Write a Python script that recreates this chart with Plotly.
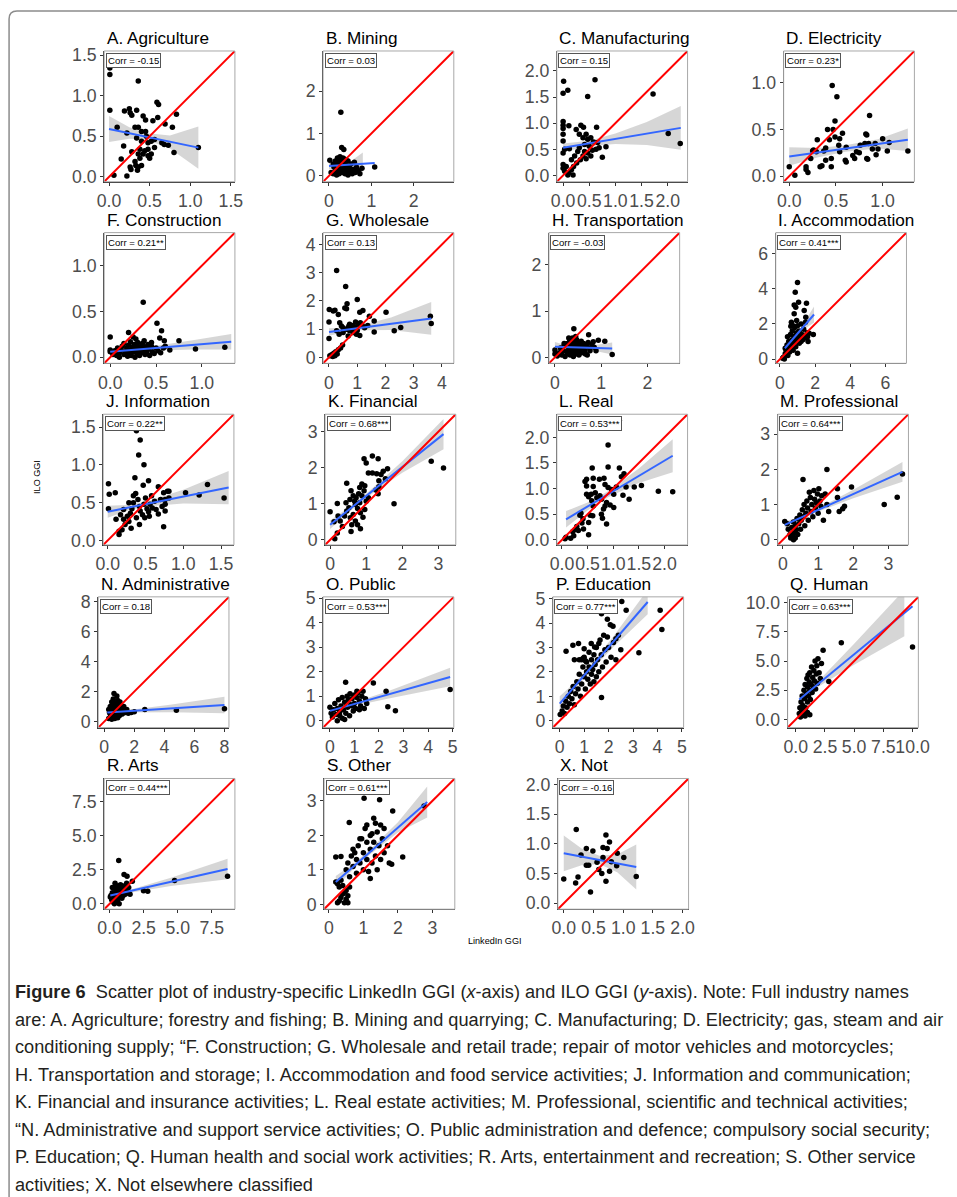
import plotly.graph_objects as go

# Positions below are written in reference-picture pixels.  The page body keeps the browser's
# default 8px margin and the photographed page comes out ~1% smaller than laid out, so every
# picture position is converted to figure coordinates through S and BODY.
S, BODY = 0.9896, 8
W, H = 960, 1203

# ===================== DATA =====================
A_pts = [(0.01,1.34),(0.01,1.26),(0.36,1.18),(0.01,0.82),(0.59,0.92),(0.61,0.89),(0.19,0.81),(0.25,0.84),
         (0.26,0.79),(0.28,0.76),(0.34,0.82),(0.42,0.75),(0.45,0.70),(0.54,0.69),(0.60,0.73),(0.83,0.77),
         (0.69,0.65),(0.78,0.61),(0.10,0.61),(0.32,0.61),(0.36,0.61),(0.40,0.56),(0.45,0.56),(0.46,0.50),
         (0.56,0.46),(0.22,0.54),(0.18,0.38),(0.34,0.48),(0.40,0.44),(0.48,0.42),(0.52,0.44),(0.65,0.42),
         (0.68,0.40),(0.73,0.39),(0.56,0.36),(0.48,0.34),(0.44,0.32),(0.38,0.34),(0.28,0.31),(0.36,0.28),
         (0.42,0.28),(0.48,0.26),(0.52,0.28),(0.50,0.23),(0.38,0.23),(0.15,0.22),(0.32,0.19),(0.26,0.12),
         (0.33,0.14),(0.36,0.12),(0.40,0.14),(0.35,0.08),(0.27,0.09),(0.06,0.02),(0.22,0.01),(0.80,0.30),
         (1.10,0.36)]
A_fit_x, A_fit_y = [0.0, 1.1], [0.59, 0.36]
A_ci_x = [0.0, 0.25, 0.45, 0.75, 1.1]
A_ci_lo = [0.43, 0.47, 0.46, 0.35, 0.10]
A_ci_hi = [0.75, 0.61, 0.54, 0.51, 0.62]

B_pts = [(0.02,0.37),(0.05,0.08),(0.10,0.05),(0.12,0.20),(0.15,0.10),(0.18,0.02),(0.20,0.30),(0.22,0.15),
         (0.24,0.05),(0.25,0.38),(0.27,0.25),(0.28,0.12),(0.30,0.35),(0.30,0.20),(0.32,0.08),(0.33,0.42),
         (0.35,0.30),(0.36,0.18),(0.38,0.05),(0.40,0.25),(0.42,0.12),(0.45,0.35),(0.45,0.02),(0.48,0.20),
         (0.50,0.10),(0.52,0.28),(0.55,0.05),(0.58,0.15),(0.60,0.32),(0.62,0.08),(0.65,0.20),(0.70,0.12),
         (0.73,0.05),(0.78,0.18),(1.08,0.21),(0.28,1.50),(0.30,0.67),(0.35,0.62),(0.15,0.35),(0.20,0.42),
         (0.10,0.28),(0.22,0.08),(0.28,0.30),(0.34,0.22),(0.40,0.38),(0.26,0.45),(0.36,0.40)]
B_fit_x, B_fit_y = [0.0, 1.08], [0.23, 0.30]
B_ci_x = [0.0, 0.27, 0.5, 0.8]
B_ci_lo = [0.15, 0.21, 0.19, 0.03]
B_ci_hi = [0.31, 0.29, 0.33, 0.55]

C_pts = [(0.01,1.80),(0.00,1.57),(0.09,1.63),(0.61,1.83),(0.47,1.51),(1.72,1.56),(2.01,0.80),(2.24,0.61),
         (0.00,1.03),(0.00,0.96),(0.00,0.90),(0.11,0.95),(0.00,0.79),(0.00,0.66),(0.00,0.43),(0.00,0.21),
         (0.00,0.14),(0.03,0.08),(0.09,0.01),(0.06,0.17),(0.16,0.30),(0.22,0.37),(0.25,0.88),(0.34,0.96),
         (0.39,0.92),(0.31,0.79),(0.38,0.72),(0.44,0.79),(0.64,0.92),(0.47,0.69),(0.53,0.72),(0.58,0.64),
         (0.66,0.63),(0.41,0.59),(0.50,0.56),(0.31,0.53),(0.28,0.46),(0.41,0.46),(0.47,0.43),(0.56,0.48),
         (0.63,0.50),(0.69,0.53),(0.82,0.55),(0.75,0.35),(0.53,0.37),(0.38,0.37),(0.33,0.30),(0.44,0.32),
         (0.26,0.24),(0.20,0.17),(0.16,0.11),(0.11,0.05),(0.19,0.01),(0.03,0.50),(0.12,0.51)]
C_fit_x, C_fit_y = [0.0, 2.25], [0.53, 0.91]
C_ci_x = [0.0, 0.5, 1.0, 1.6, 2.25]
C_ci_lo = [0.45, 0.565, 0.60, 0.58, 0.49]
C_ci_hi = [0.61, 0.665, 0.80, 1.02, 1.33]

D_pts = [(0.00,0.10),(0.06,0.01),(0.18,0.10),(0.18,0.07),(0.20,0.04),(0.23,0.19),(0.25,0.27),(0.30,0.39),
         (0.29,0.26),(0.33,0.10),(0.35,0.11),(0.39,0.17),(0.39,0.30),(0.41,0.50),(0.43,0.39),(0.45,0.19),
         (0.46,0.97),(0.45,0.10),(0.47,0.50),(0.49,0.59),(0.51,0.85),(0.49,0.42),(0.54,0.40),(0.57,0.46),
         (0.53,0.33),(0.54,0.26),(0.61,0.31),(0.60,0.17),(0.61,0.15),(0.68,0.22),(0.70,0.19),(0.72,0.26),
         (0.75,0.25),(0.76,0.33),(0.81,0.35),(0.82,0.45),(0.83,0.44),(0.83,0.19),(0.84,0.18),(0.86,0.65),
         (0.85,0.35),(0.89,0.29),(0.92,0.35),(0.93,0.23),(0.95,0.29),(1.00,0.40),(1.05,0.27),(1.07,0.36),
         (1.27,0.27),(0.26,0.28),(0.37,0.27)]
D_fit_x, D_fit_y = [0.0, 1.27], [0.21, 0.39]
D_ci_x = [0.0, 0.3, 0.6, 0.95, 1.27]
D_ci_lo = [0.11, 0.20, 0.26, 0.295, 0.27]
D_ci_hi = [0.31, 0.30, 0.33, 0.395, 0.51]

F_pts = [(0.00,0.22),(0.00,0.08),(0.00,0.06),(0.36,0.60),(0.51,0.37),(0.56,0.29),(0.54,0.21),(0.59,0.18),
         (0.75,0.18),(0.20,0.27),(0.93,0.09),(1.25,0.11),(0.65,0.08),(0.58,0.10),(0.03,0.03),(0.05,0.07),
         (0.07,0.02),(0.08,0.10),(0.10,0.05),(0.10,0.00),(0.12,0.08),(0.13,0.12),(0.15,0.03),(0.15,0.15),
         (0.17,0.06),(0.18,0.10),(0.19,0.01),(0.20,0.13),(0.20,0.05),(0.22,0.08),(0.22,0.17),(0.23,0.02),
         (0.24,0.11),(0.25,0.06),(0.26,0.14),(0.27,0.00),(0.28,0.09),(0.29,0.04),(0.30,0.12),(0.30,0.16),
         (0.31,0.07),(0.32,0.02),(0.33,0.10),(0.34,0.05),(0.35,0.13),(0.36,0.08),(0.37,0.18),(0.38,0.03),
         (0.39,0.11),(0.40,0.06),(0.41,0.14),(0.42,0.09),(0.43,0.02),(0.45,0.12),(0.46,0.06),(0.48,0.04),
         (0.50,0.10),(0.52,0.07),(0.55,0.05),(0.45,0.16),(0.28,0.20),(0.25,0.22),(0.35,0.15),(0.60,0.12)]
F_fit_x, F_fit_y = [0.0, 1.32], [0.06, 0.17]
F_ci_x = [0.0, 0.25, 0.5, 0.9, 1.32]
F_ci_lo = [0.03, 0.066, 0.077, 0.085, 0.085]
F_ci_hi = [0.09, 0.096, 0.127, 0.185, 0.255]

G_pts = [(0.27,3.08),(0.59,2.51),(1.00,2.05),(0.64,1.90),(0.56,1.75),(0.62,1.72),(0.01,1.70),(0.15,1.64),
         (0.21,1.67),(0.33,1.52),(0.00,1.25),(1.20,1.66),(1.09,1.60),(2.02,1.60),(1.43,1.46),(1.60,1.29),
         (1.60,0.90),(2.31,0.94),(2.54,1.06),(3.59,1.46),(3.62,1.20),(0.00,0.67),(0.38,1.23),(0.44,1.11),
         (0.50,1.05),(0.73,1.17),(0.85,1.13),(0.94,1.25),(1.03,1.17),(1.11,1.23),(1.18,1.13),(0.62,1.00),
         (0.73,0.94),(0.85,0.88),(0.97,0.82),(1.09,0.78),(0.68,0.76),(0.91,1.06),(0.27,0.94),(0.36,0.82),
         (0.50,0.88),(1.26,1.05),(1.37,1.13),(0.48,0.44),(0.41,0.33),(0.33,0.27),(0.24,0.20),(0.17,0.15),
         (0.09,0.09),(0.03,0.06),(0.29,0.12),(0.21,0.06),(0.13,0.03),(0.80,1.00),(1.00,0.95),(0.70,1.10)]
G_fit_x, G_fit_y = [0.0, 3.62], [0.90, 1.38]
G_ci_x = [0.0, 0.6, 1.0, 2.2, 3.62]
G_ci_lo = [0.77, 0.91, 0.963, 0.97, 0.80]
G_ci_hi = [1.03, 1.05, 1.10, 1.41, 1.96]

H_pts = [(0.41,0.62),(0.73,0.49),(0.00,0.16),(0.00,0.07),(1.24,0.06),(0.94,0.37),(1.08,0.35),(0.83,0.34),
         (0.76,0.14),(0.89,0.14),(0.66,0.07),(0.05,0.03),(0.10,0.10),(0.12,0.20),(0.15,0.05),(0.18,0.15),
         (0.20,0.25),(0.22,0.02),(0.25,0.12),(0.27,0.30),(0.28,0.08),(0.30,0.20),(0.32,0.35),(0.33,0.05),
         (0.35,0.15),(0.35,0.28),(0.37,0.40),(0.38,0.10),(0.40,0.22),(0.40,0.02),(0.42,0.33),(0.43,0.15),
         (0.45,0.07),(0.45,0.25),(0.47,0.38),(0.48,0.12),(0.50,0.20),(0.50,0.30),(0.52,0.05),(0.53,0.15),
         (0.55,0.25),(0.57,0.35),(0.58,0.10),(0.60,0.20),(0.62,0.30),(0.65,0.15),(0.68,0.25),(0.70,0.05),
         (0.72,0.32),(0.75,0.20),(0.80,0.28),(0.85,0.22),(0.45,0.45),(0.38,0.42),(0.30,0.42),(0.20,0.30)]
H_fit_x, H_fit_y = [0.0, 1.24], [0.23, 0.19]
H_ci_x = [0.0, 0.25, 0.45, 0.8, 1.24]
H_ci_lo = [0.13, 0.18, 0.19, 0.154, 0.06]
H_ci_hi = [0.33, 0.26, 0.24, 0.254, 0.32]

I_pts = [(1.00,4.36),(0.87,3.80),(1.06,3.23),(0.81,3.08),(0.90,2.95),(1.51,3.18),(0.81,2.58),(1.38,2.77),
         (1.47,2.39),(0.62,1.87),(0.43,1.27),(0.30,0.62),(1.00,0.34),(1.57,1.27),(1.66,1.47),(0.20,0.10),
         (0.30,0.30),(0.35,0.50),(0.40,0.80),(0.45,0.20),(0.50,0.60),(0.50,1.00),(0.55,0.40),(0.60,0.90),
         (0.60,1.40),(0.65,0.70),(0.70,1.10),(0.70,1.60),(0.75,0.50),(0.80,1.30),(0.80,0.90),(0.85,1.80),
         (0.85,1.00),(0.90,1.20),(0.90,0.70),(0.95,1.50),(1.00,1.00),(1.00,1.90),(1.05,1.30),(1.10,0.90),
         (1.10,1.60),(1.15,1.20),(1.20,2.00),(1.20,1.00),(1.25,1.40),(1.30,1.10),(1.35,1.70),(1.40,1.30),
         (1.45,2.10),(1.50,1.20),(1.55,1.50),(1.60,1.00),(0.25,0.00),(0.15,0.05),(0.95,2.20),(0.75,1.90),
         (0.65,2.10),(1.90,1.40)]
I_fit_x, I_fit_y = [0.28, 1.94], [0.62, 2.54]
I_ci_x = [0.28, 0.6, 0.9, 1.3, 1.94]
I_ci_lo = [0.40, 0.89, 1.27, 1.65, 2.09]
I_ci_hi = [0.84, 1.09, 1.41, 1.95, 2.99]

J_pts = [(0.38,1.45),(0.43,1.33),(0.41,1.13),(0.48,1.00),(0.01,0.75),(0.02,0.61),(0.10,0.63),(0.01,0.42),
         (0.36,0.83),(0.54,0.79),(0.47,0.73),(0.67,0.71),(0.74,0.18),(1.03,0.63),(1.21,0.60),(1.32,0.74),
         (1.54,0.56),(0.79,0.65),(0.76,0.54),(0.76,0.48),(0.76,0.39),(0.67,0.35),(0.11,0.28),(0.15,0.12),
         (0.15,0.08),(0.19,0.14),(0.21,0.28),(0.23,0.21),(0.26,0.32),(0.28,0.25),(0.31,0.16),(0.30,0.36),
         (0.32,0.42),(0.34,0.50),(0.34,0.59),(0.37,0.62),(0.40,0.54),(0.42,0.45),(0.43,0.39),(0.46,0.34),
         (0.48,0.48),(0.50,0.56),(0.52,0.42),(0.54,0.38),(0.56,0.48),(0.58,0.59),(0.59,0.43),(0.62,0.52),
         (0.64,0.41),(0.70,0.54),(0.72,0.45),(0.74,0.63),(0.81,0.65),(0.81,0.56),(0.38,0.30),(0.42,0.21),
         (0.49,0.30),(0.55,0.32),(0.28,0.50),(0.21,0.41),(0.17,0.34)]
J_fit_x, J_fit_y = [0.0, 1.6], [0.38, 0.70]
J_ci_x = [0.0, 0.25, 0.5, 1.0, 1.6]
J_ci_lo = [0.30, 0.39, 0.45, 0.49, 0.48]
J_ci_hi = [0.46, 0.47, 0.51, 0.67, 0.92]

K_pts = [(0.00,0.78),(0.20,1.01),(0.13,0.03),(0.20,0.19),(0.46,1.57),(0.58,1.36),(0.94,2.25),(1.00,2.13),
         (1.17,2.32),(1.33,2.25),(1.06,1.85),(1.17,1.85),(1.29,1.83),(1.41,1.81),(1.47,1.90),(1.59,1.97),
         (1.35,1.64),(1.53,1.69),(1.35,1.47),(1.33,1.28),(1.27,1.38),(1.77,1.00),(2.80,2.18),(3.14,1.99),
         (0.58,0.23),(0.60,0.42),(0.70,0.52),(0.34,0.37),(0.28,0.52),(0.40,0.66),(0.46,0.80),(0.52,0.89),
         (0.44,1.03),(0.55,1.12),(0.64,1.22),(0.72,1.17),(0.79,1.28),(0.88,1.22),(0.94,1.36),(0.96,1.50),
         (0.88,1.55),(0.82,1.45),(0.70,0.98),(0.76,0.87),(0.84,0.75),(0.91,0.63),(0.96,0.84),(0.64,0.70),
         (0.56,0.61),(0.68,1.07),(0.82,1.03),(1.00,1.07),(1.06,1.17),(0.76,0.42),(0.84,0.31),(0.22,0.66),
         (0.11,0.50)]
K_fit_x, K_fit_y = [0.0, 3.14], [0.42, 2.93]
K_ci_x = [0.0, 0.5, 1.0, 2.0, 3.14]
K_ci_lo = [0.30, 0.75, 1.16, 1.86, 2.51]
K_ci_hi = [0.54, 0.89, 1.28, 2.18, 3.35]

L_pts = [(1.12,2.33),(0.90,1.85),(0.59,1.40),(0.90,1.42),(1.12,1.40),(1.16,1.23),(1.21,1.29),(0.48,1.18),
         (0.45,1.14),(0.61,1.20),(0.73,1.18),(0.82,1.20),(0.48,1.05),(0.61,1.04),(0.84,1.08),(0.90,1.02),
         (0.97,0.98),(1.06,1.03),(1.25,1.03),(1.41,1.03),(1.55,1.06),(1.88,0.95),(2.16,0.94),(1.31,0.79),
         (1.19,0.87),(1.01,0.89),(0.48,0.89),(0.52,0.84),(0.57,0.89),(0.65,0.92),(0.68,0.82),(0.74,0.86),
         (0.77,0.79),(0.87,0.73),(0.84,0.66),(0.94,0.68),(1.01,0.63),(0.81,0.60),(0.61,0.66),(0.58,0.76),
         (0.55,0.48),(0.37,0.52),(0.35,0.48),(0.52,0.34),(0.41,0.41),(0.39,0.33),(0.79,0.42),(0.77,0.50),
         (0.87,0.31),(0.60,0.47),(0.26,0.20),(0.21,0.16),(0.32,0.18),(0.42,0.21),(0.52,0.10),(0.08,0.05),
         (0.06,0.02),(0.23,0.08),(0.17,0.03),(0.29,0.26)]
L_fit_x, L_fit_y = [0.08, 2.16], [0.40, 1.64]
L_ci_x = [0.08, 0.5, 0.9, 1.5, 2.16]
L_ci_lo = [0.24, 0.57, 0.83, 1.11, 1.32]
L_ci_hi = [0.56, 0.73, 0.95, 1.39, 1.96]

M_pts = [(0.05,0.52),(0.12,0.45),(0.15,0.30),(0.20,0.15),(0.22,0.05),(0.25,0.35),(0.28,0.10),(0.30,0.50),
         (0.32,0.20),(0.35,0.40),(0.38,0.28),(0.40,0.60),(0.42,0.15),(0.45,0.45),(0.48,0.70),(0.50,0.30),
         (0.52,0.55),(0.55,0.85),(0.58,0.65),(0.60,1.00),(0.62,0.40),(0.65,0.75),(0.68,1.10),(0.70,0.90),
         (0.72,0.55),(0.75,1.35),(0.78,1.20),(0.80,0.80),(0.82,1.00),(0.85,0.65),(0.88,1.40),(0.90,1.15),
         (0.92,0.90),(0.95,1.05),(0.98,1.30),(1.00,0.75),(1.02,1.45),(1.05,1.10),(1.08,0.95),(1.10,1.25),
         (1.15,0.55),(1.20,1.30),(1.25,1.00),(1.30,0.80),(1.60,0.80),(1.70,0.88),(1.75,0.95),(1.55,1.20),
         (1.55,1.45),(0.57,1.71),(1.25,2.00),(1.95,1.50),(2.88,1.00),(3.25,1.21),(3.40,1.87),(0.30,0.00),
         (0.35,0.05)]
M_fit_x, M_fit_y = [0.05, 3.4], [0.42, 1.93]
M_ci_x = [0.05, 0.5, 0.9, 2.0, 3.4]
M_ci_lo = [0.33, 0.57, 0.76, 1.18, 1.65]
M_ci_hi = [0.51, 0.67, 0.84, 1.42, 2.21]

N_pts = [(0.30,0.80),(0.40,0.50),(0.45,0.30),(0.50,0.60),(0.55,1.00),(0.60,0.40),(0.65,1.86),(0.70,0.70),
         (0.72,1.20),(0.75,0.50),(0.80,0.90),(0.84,1.70),(0.85,0.30),(0.90,1.40),(0.92,0.60),(0.95,1.10),
         (1.00,0.80),(1.02,0.40),(1.05,1.30),(1.10,0.60),(1.15,0.90),(1.20,0.50),(1.25,0.70),(1.30,1.00),
         (1.40,0.60),(1.50,0.80),(1.60,0.55),(1.80,0.60),(2.00,0.65),(0.30,0.20),(0.35,0.60),(0.50,0.15),
         (0.60,0.90),(0.70,0.20),(0.80,0.45),(0.90,0.25),(1.10,1.00),(1.20,0.85),(2.70,0.80),(4.80,0.75),
         (8.00,0.85),(0.40,1.00),(0.50,1.30),(0.60,1.50)]
N_fit_x, N_fit_y = [0.2, 8.0], [0.60, 1.10]
N_ci_x = [0.2, 0.9, 1.5, 4.5, 8.0]
N_ci_lo = [0.48, 0.575, 0.60, 0.62, 0.55]
N_ci_hi = [0.72, 0.715, 0.76, 1.13, 1.65]

O_pts = [(0.64,1.57),(1.77,1.54),(2.29,1.20),(2.36,0.57),(2.67,0.41),(4.90,1.27),(0.00,0.55),(0.05,0.30),
         (0.10,0.15),(0.15,0.45),(0.20,0.70),(0.25,0.25),(0.30,0.50),(0.35,0.85),(0.40,0.35),(0.45,0.60),
         (0.50,0.10),(0.50,0.95),(0.55,0.45),(0.60,0.75),(0.65,0.30),(0.70,1.00),(0.72,0.55),(0.75,0.85),
         (0.80,0.20),(0.82,1.10),(0.85,0.65),(0.90,0.90),(0.95,0.40),(1.00,1.05),(1.00,0.70),(1.05,0.50),
         (1.10,0.95),(1.15,1.15),(1.20,0.80),(1.25,0.60),(1.30,1.00),(1.35,1.20),(1.40,0.50),(1.45,0.90),
         (1.50,0.70),(1.20,0.45),(0.60,0.05),(0.30,0.00),(0.40,0.20),(0.90,0.60),(1.10,1.20)]
O_fit_x, O_fit_y = [0.0, 4.9], [0.40, 1.78]
O_ci_x = [0.0, 0.5, 0.9, 2.5, 4.9]
O_ci_lo = [0.27, 0.47, 0.59, 0.93, 1.40]
O_ci_hi = [0.53, 0.61, 0.71, 1.25, 2.16]

P_pts = [(0.02,0.26),(0.10,0.40),(0.15,0.60),(0.20,0.30),(0.25,0.80),(0.30,0.55),(0.35,1.00),(0.40,0.70),
         (0.45,1.20),(0.50,0.90),(0.55,1.40),(0.60,0.65),(0.65,1.10),(0.70,1.60),(0.75,1.30),(0.80,1.90),
         (0.85,1.00),(0.90,2.50),(0.90,1.50),(0.95,2.20),(1.00,1.80),(1.00,2.60),(1.05,1.30),(1.10,2.40),
         (1.10,2.00),(1.15,1.70),(1.20,2.80),(1.20,2.20),(1.25,1.50),(1.30,2.50),(1.30,1.90),(1.35,2.10),
         (1.40,2.70),(1.40,1.60),(1.45,2.30),(1.50,3.00),(1.50,1.80),(1.55,2.50),(1.60,2.00),(1.65,3.30),
         (1.70,2.70),(1.75,2.20),(1.80,3.50),(1.85,2.90),(1.90,2.40),(2.00,3.00),(2.10,2.60),(2.20,3.20),
         (2.30,2.50),(2.40,3.50),(2.50,2.90),(0.26,2.84),(0.54,3.09),(0.77,3.16),(1.00,2.95),(1.29,3.16),
         (1.43,3.02),(1.60,3.16),(1.95,3.43),(2.30,3.36),(2.07,3.93),(2.18,3.87),(1.95,4.15),(1.71,4.38),
         (2.54,4.88),(2.72,4.52),(4.11,4.52),(4.18,3.73),(3.24,2.78),(1.71,0.95),(0.60,2.50),(0.80,2.50),
         (0.95,2.55),(1.05,2.45)]
P_fit_x, P_fit_y = [0.0, 3.6], [0.70, 4.86]
P_ci_x = [0.0, 0.6, 1.2, 2.2, 3.6]
P_ci_lo = [0.40, 1.24, 1.97, 3.02, 4.36]
P_ci_hi = [1.00, 1.54, 2.21, 3.46, 5.36]

Q_pts = [(3.90,6.57),(2.34,5.92),(10.0,6.21),(2.83,3.25),(0.30,0.50),(0.35,1.00),(0.40,0.20),(0.45,1.50),
         (0.50,0.80),(0.55,2.00),(0.60,1.20),(0.65,0.50),(0.70,2.50),(0.75,1.80),(0.80,3.00),(0.85,1.00),
         (0.90,2.20),(0.95,3.50),(1.00,1.50),(1.00,2.80),(1.05,3.80),(1.10,2.00),(1.15,3.20),(1.20,4.00),
         (1.20,2.50),(1.25,1.70),(1.30,3.00),(1.35,4.50),(1.40,2.30),(1.45,3.60),(1.50,2.80),(1.55,4.20),
         (1.60,3.30),(1.65,5.00),(1.70,2.60),(1.75,3.90),(1.80,4.60),(1.85,3.10),(1.90,5.20),(2.00,4.00),
         (2.10,3.50),(2.20,4.80),(1.00,0.60),(1.20,0.40),(0.80,0.30)]
Q_fit_x, Q_fit_y = [0.3, 10.0], [1.70, 9.70]
Q_ci_x = [0.3, 1.2, 2.0, 5.0, 9.3]
Q_ci_lo = [1.25, 2.19, 2.85, 4.68, 7.12]
Q_ci_hi = [2.15, 2.69, 3.35, 6.48, 11.1]

R_pts = [(0.67,3.18),(1.06,2.14),(1.28,2.02),(1.67,1.65),(2.49,0.96),(2.80,0.91),(4.77,1.70),(8.66,2.02),
         (0.05,0.50),(0.10,0.60),(0.15,0.30),(0.20,0.80),(0.25,0.40),(0.30,1.20),(0.30,0.10),(0.35,0.70),
         (0.40,1.50),(0.40,0.20),(0.45,0.90),(0.50,0.50),(0.55,1.10),(0.60,0.30),(0.60,1.30),(0.65,0.80),
         (0.70,0.00),(0.70,1.00),(0.75,0.50),(0.80,1.40),(0.80,0.70),(0.85,1.10),(0.90,0.40),(0.95,0.90),
         (1.00,1.30),(1.00,0.60),(1.05,0.80),(1.10,1.20),(1.15,0.70),(1.20,1.00),(1.25,1.50),(1.30,0.80),
         (1.40,1.20),(1.50,0.70),(0.50,1.00),(0.20,1.20),(0.35,0.00),(0.55,0.15)]
R_fit_x, R_fit_y = [0.05, 8.66], [0.60, 2.55]
R_ci_x = [0.05, 0.6, 1.2, 4.5, 8.66]
R_ci_lo = [0.46, 0.655, 0.78, 1.31, 1.80]
R_ci_hi = [0.74, 0.795, 0.94, 1.91, 3.30]

S_pts = [(1.02,3.08),(1.47,3.03),(1.85,2.71),(0.59,2.37),(2.76,2.85),(2.14,1.37),(1.82,1.16),(1.20,0.75),
         (0.20,1.37),(0.35,1.39),(0.25,0.05),(0.30,0.10),(0.35,0.20),(0.40,0.30),(0.45,0.05),(0.50,0.15),
         (0.50,0.40),(0.55,0.25),(0.45,0.35),(0.30,0.50),(0.25,0.60),(0.20,0.65),(0.35,0.70),(0.40,0.55),
         (0.55,0.05),(0.60,0.50),(0.50,1.00),(0.55,1.20),(0.60,0.80),(0.65,1.40),(0.70,1.10),(0.75,1.50),
         (0.80,0.90),(0.80,1.30),(0.85,1.70),(0.90,1.20),(0.95,1.90),(1.00,1.00),(1.00,1.50),(1.05,2.20),
         (1.10,1.30),(1.10,1.80),(1.15,0.95),(1.20,1.60),(1.20,2.00),(1.25,1.20),(1.30,1.80),(1.30,2.50),
         (1.35,1.40),(1.40,2.10),(1.40,1.00),(1.45,1.70),(1.50,2.30),(1.50,1.30),(1.55,1.90),(1.60,1.50),
         (1.60,2.20),(1.70,1.70),(1.75,1.20),(0.90,1.90),(0.70,1.60),(1.35,2.35),(1.25,2.05),(1.10,2.30)]
S_fit_x, S_fit_y = [0.2, 2.85], [0.65, 2.97]
S_ci_x = [0.2, 0.7, 1.2, 2.0, 2.85]
S_ci_lo = [0.48, 1.01, 1.455, 2.08, 2.52]
S_ci_hi = [0.82, 1.17, 1.595, 2.38, 3.42]

X_pts = [(0.00,0.41),(0.21,1.24),(0.20,0.34),(0.24,0.44),(0.29,0.81),(0.38,0.92),(0.49,0.88),(0.38,0.64),
         (0.42,0.64),(0.45,0.19),(0.56,0.69),(0.59,0.57),(0.64,0.50),(0.66,0.77),(0.66,0.94),(0.71,1.15),
         (0.73,0.92),(0.71,0.37),(0.77,1.03),(0.77,0.54),(0.80,0.70),(0.90,0.84),(0.89,0.63),(1.01,0.77),
         (1.22,0.45)]
X_fit_x, X_fit_y = [0.0, 1.22], [0.84, 0.61]
X_ci_x = [0.0, 0.3, 0.6, 0.9, 1.22]
X_ci_lo = [0.54, 0.64, 0.66, 0.52, 0.23]
X_ci_hi = [1.14, 0.92, 0.80, 0.82, 0.99]

TITLES = ["A. Agriculture", "B. Mining", "C. Manufacturing", "D. Electricity",
          "F. Construction", "G. Wholesale", "H. Transportation", "I. Accommodation",
          "J. Information", "K. Financial", "L. Real", "M. Professional",
          "N. Administrative", "O. Public", "P. Education", "Q. Human",
          "R. Arts", "S. Other", "X. Not"]
CORRS = ["Corr = -0.15", "Corr = 0.03", "Corr = 0.15", "Corr = 0.23*",
         "Corr = 0.21**", "Corr = 0.13", "Corr = -0.03", "Corr = 0.41***",
         "Corr = 0.22**", "Corr = 0.68***", "Corr = 0.53***", "Corr = 0.64***",
         "Corr = 0.18", "Corr = 0.53***", "Corr = 0.77***", "Corr = 0.63***",
         "Corr = 0.44***", "Corr = 0.61***", "Corr = -0.16"]

T_dec05 = ["0.0", "0.5", "1.0", "1.5", "2.0"]
TICKS = {
    "A": ([0, 0.5, 1, 1.5], T_dec05[:4]),
    "B": ([0, 1, 2], ["0", "1", "2"]),
    "C": ([0, 0.5, 1, 1.5, 2], T_dec05),
    "D": ([0, 0.5, 1], T_dec05[:3]),
    "F": ([0, 0.5, 1], T_dec05[:3]),
    "G": ([0, 1, 2, 3, 4], ["0", "1", "2", "3", "4"]),
    "H": ([0, 1, 2], ["0", "1", "2"]),
    "I": ([0, 2, 4, 6], ["0", "2", "4", "6"]),
    "J": ([0, 0.5, 1, 1.5], T_dec05[:4]),
    "K": ([0, 1, 2, 3], ["0", "1", "2", "3"]),
    "L": ([0, 0.5, 1, 1.5, 2], T_dec05),
    "M": ([0, 1, 2, 3], ["0", "1", "2", "3"]),
    "N": ([0, 2, 4, 6, 8], ["0", "2", "4", "6", "8"]),
    "O": ([0, 1, 2, 3, 4, 5], ["0", "1", "2", "3", "4", "5"]),
    "P": ([0, 1, 2, 3, 4, 5], ["0", "1", "2", "3", "4", "5"]),
    "Q": ([0, 2.5, 5, 7.5, 10], ["0.0", "2.5", "5.0", "7.5", "10.0"]),
    "R": ([0, 2.5, 5, 7.5], ["0.0", "2.5", "5.0", "7.5"]),
    "S": ([0, 1, 2, 3], ["0", "1", "2", "3"]),
    "X": ([0, 0.5, 1, 1.5, 2], T_dec05),
}
RANGES = {
    "A": [-0.06, 1.55], "B": [-0.14, 2.95], "C": [-0.12, 2.38], "D": [-0.06, 1.34],
    "F": [-0.066, 1.36], "G": [-0.21, 4.42], "H": [-0.13, 2.7], "I": [-0.24, 7.2],
    "J": [-0.06, 1.67], "K": [-0.14, 3.48], "L": [-0.1, 2.45], "M": [-0.15, 3.57],
    "N": [-0.4, 8.3], "O": [-0.28, 5.05], "P": [-0.28, 5.07], "Q": [-0.7, 10.5],
    "R": [-0.4, 9.2], "S": [-0.14, 3.65], "X": [-0.1, 2.1],
}

CAPTION = [
    "<b>Figure 6</b>  Scatter plot of industry-specific LinkedIn GGI (<i>x</i>-axis) and ILO GGI (<i>y</i>-axis). Note: Full industry names",
    "are: A. Agriculture; forestry and fishing; B. Mining and quarrying; C. Manufacturing; D. Electricity; gas, steam and air",
    "conditioning supply; \u201cF. Construction; G. Wholesale and retail trade; repair of motor vehicles and motorcycles;",
    "H. Transportation and storage; I. Accommodation and food service activities; J. Information and communication;",
    "K. Financial and insurance activities; L. Real estate activities; M. Professional, scientific and technical activities;",
    "\u201cN. Administrative and support service activities; O. Public administration and defence; compulsory social security;",
    "P. Education; Q. Human health and social work activities; R. Arts, entertainment and recreation; S. Other service",
    "activities; X. Not elsewhere classified",
]

# ===================== LAYOUT (picture-pixel positions of panel frames) =====================
KEYS = ["A", "B", "C", "D", "F", "G", "H", "I", "J", "K", "L", "M",
        "N", "O", "P", "Q", "R", "S", "X"]
ROW_TOP = [50, 232, 414, 597, 779]
LEFTS = {"A": 105, "B": 326, "C": 562, "D": 791,
         "F": 105, "G": 326, "H": 554, "I": 783,
         "J": 104, "K": 328, "L": 562, "M": 785,
         "N": 99, "O": 326, "P": 558, "Q": 795,
         "R": 105, "S": 327, "X": 563}
PW, PH = 132, 131


def fx(t):
    return (t / S - BODY) / W


def fy(t):
    return 1 - (t / S - BODY) / H


def fs(size):
    return size / S


FONT = "Liberation Sans, Arial, sans-serif"
fig = go.Figure()
layout = dict(width=W, height=H, margin=dict(l=0, r=0, t=0, b=0),
              paper_bgcolor="white", plot_bgcolor="white", showlegend=False)
shapes, annotations = [], []
g = globals()

for i, k in enumerate(KEYS):
    n = i + 1
    sfx = "" if n == 1 else str(n)
    xr, yr = "x" + sfx, "y" + sfx
    top = ROW_TOP[i // 4]
    left = LEFTS[k]
    pts = g[k + "_pts"]
    px = [p[0] for p in pts]
    py = [p[1] for p in pts]
    rng = RANGES[k]
    tv, tt = TICKS[k]

    axis_common = dict(range=rng, tickvals=tv, ticktext=tt, ticks="outside", ticklen=3,
                       tickwidth=1, tickcolor="#333333", showgrid=False, zeroline=False,
                       showline=True, linecolor="#333333", linewidth=1, tickangle=0,
                       tickfont=dict(family=FONT, size=fs(17.5), color="#4D4D4D"), fixedrange=True)
    layout["xaxis" + sfx] = dict(axis_common, domain=[fx(left), fx(left + PW)], anchor=yr)
    layout["yaxis" + sfx] = dict(axis_common, domain=[fy(top + PH), fy(top)], anchor=xr)

    ci_x = g[k + "_ci_x"]
    fig.add_trace(go.Scatter(x=ci_x + ci_x[::-1], y=g[k + "_ci_hi"] + g[k + "_ci_lo"][::-1],
                             fill="toself", fillcolor="rgba(153,153,153,0.4)", line=dict(width=0),
                             mode="lines", hoverinfo="skip", xaxis=xr, yaxis=yr))
    fig.add_trace(go.Scatter(x=px, y=py, mode="markers",
                             marker=dict(color="black", size=5.5, line=dict(width=0)),
                             xaxis=xr, yaxis=yr))
    fig.add_trace(go.Scatter(x=g[k + "_fit_x"], y=g[k + "_fit_y"], mode="lines",
                             line=dict(color="#3366FF", width=2), xaxis=xr, yaxis=yr))
    fig.add_trace(go.Scatter(x=rng, y=rng, mode="lines",
                             line=dict(color="#FF0000", width=2), xaxis=xr, yaxis=yr))

    shapes.append(dict(type="rect", xref=xr + " domain", yref=yr + " domain",
                       x0=0, x1=1, y0=0, y1=1, line=dict(color="#A8A8A8", width=1)))
    annotations.append(dict(text=TITLES[i], xref=xr + " domain", yref=yr + " domain",
                            x=0.005, y=1, xanchor="left", yanchor="bottom", yshift=1,
                            showarrow=False, font=dict(family=FONT, size=fs(17), color="black")))
    annotations.append(dict(text=CORRS[i], xref=xr + " domain", yref=yr + " domain",
                            x=0.012, y=0.985, xanchor="left", yanchor="top", showarrow=False,
                            bgcolor="white", bordercolor="#555555", borderwidth=1, borderpad=1,
                            font=dict(family=FONT, size=fs(9.5), color="black")))

# axis titles
annotations.append(dict(text="LinkedIn GGI", xref="paper", yref="paper", x=fx(500), y=fy(942),
                        xanchor="center", yanchor="middle", showarrow=False,
                        font=dict(family=FONT, size=fs(9), color="black")))
annotations.append(dict(text="ILO GGI", xref="paper", yref="paper", x=fx(37), y=fy(477),
                        xanchor="center", yanchor="middle", showarrow=False, textangle=-90,
                        font=dict(family=FONT, size=fs(9), color="black")))

# caption
for j, line in enumerate(CAPTION):
    yc = 993 + j * 27.6
    annotations.append(dict(text=line, xref="paper", yref="paper", x=fx(13), y=fy(yc),
                            xanchor="left", yanchor="middle", showarrow=False, align="left",
                            font=dict(family=FONT, size=fs(18.0), color="#231F20")))


# figure border (rounded top-left corner, running down the left edge)
def P(tx, ty):
    return f"{fx(tx):.5f},{fy(ty):.5f}"


bx0, by0, r = 9, 10, 8
path = (f"M {P(975, by0)} L {P(bx0 + r, by0)} Q {P(bx0, by0)} {P(bx0, by0 + r)} "
        f"L {P(bx0, 1215)}")
shapes.append(dict(type="path", xref="paper", yref="paper", path=path,
                   line=dict(color="#8C8C8C", width=1.5)))

layout["shapes"] = shapes
layout["annotations"] = annotations
fig.update_layout(**layout)
fig.write_html("out.html")
